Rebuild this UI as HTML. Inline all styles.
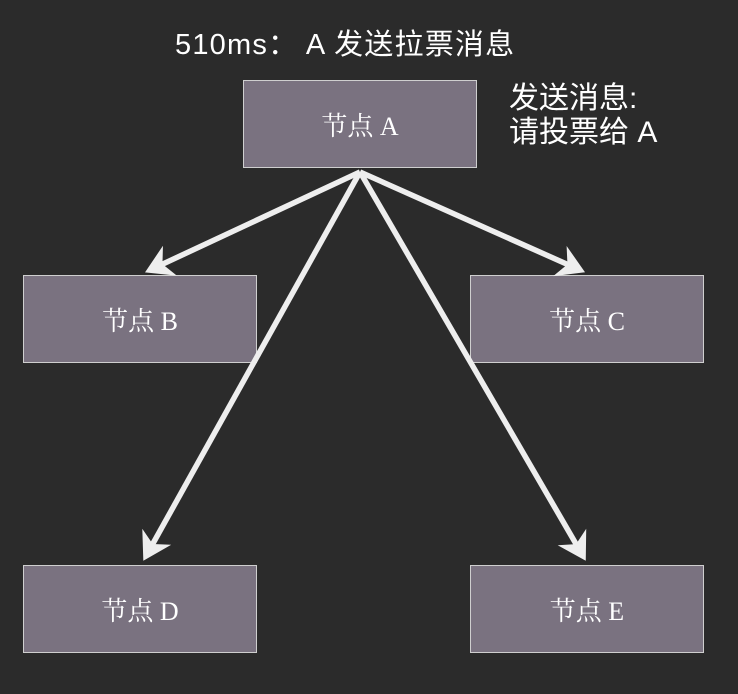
<!DOCTYPE html>
<html><head><meta charset="utf-8"><style>
body{margin:0;width:738px;height:694px;background:#2b2b2b;overflow:hidden;position:relative;font-family:"Liberation Sans","Noto Sans CJK SC",sans-serif}
.b{position:absolute;width:232px;height:86px;background:#7a7280;border:1px solid #cfcfcf;color:#fff;font-family:"Liberation Serif","Noto Serif CJK SC",serif;font-size:26px;display:flex;align-items:center;justify-content:center}
.t{position:absolute;color:#fff;font-size:29px;line-height:34px}
svg{position:absolute;left:0;top:0}
</style></head><body>
<div class="t" style="left:175px;top:28px;letter-spacing:1.2px">510ms： A 发送拉票消息</div>
<div class="t" style="left:509px;top:82px;font-size:30px">发送消息:<br>请投票给 A</div>
<div class="b" style="left:243px;top:80px">节点 A</div>
<div class="b" style="left:23px;top:275px">节点 B</div>
<div class="b" style="left:470px;top:275px">节点 C</div>
<div class="b" style="left:23px;top:565px">节点 D</div>
<div class="b" style="left:470px;top:565px">节点 E</div>
<svg width="738" height="694">
<defs><marker id="m" markerWidth="6" markerHeight="6" refX="4" refY="3" orient="auto" markerUnits="strokeWidth"><path d="M0,0 L5,3 L0,6 L1.5,3 z" fill="#eee"/></marker></defs>
<g stroke="#eee" stroke-width="5.5" fill="none" marker-end="url(#m)">
<line x1="360" y1="172" x2="150" y2="270"/>
<line x1="360" y1="172" x2="580" y2="270"/>
<line x1="360" y1="172" x2="146" y2="556"/>
<line x1="360" y1="172" x2="583" y2="556"/>
</g></svg>
</body></html>
